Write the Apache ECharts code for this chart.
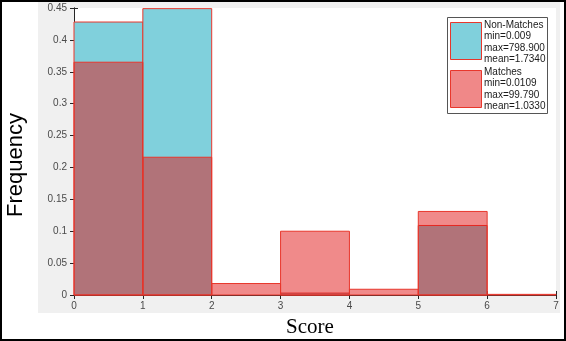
<!DOCTYPE html>
<html>
<head>
<meta charset="utf-8">
<script src="https://cdn.jsdelivr.net/npm/echarts@6/dist/echarts.min.js"></script>
<style>html,body{margin:0;padding:0;background:#fff}#c{width:566px;height:341px}</style>
</head>
<body>
<div id="c"></div>
<script>
// Data
const binEdges = [0, 1, 2, 3, 4, 5, 6, 7];
const nonMatches = [0.428, 0.449, 0, 0.003, 0, 0.109, 0];
const matches = [0.365, 0.216, 0.018, 0.100, 0.009, 0.131, 0.001];
const xTicks = [0, 1, 2, 3, 4, 5, 6, 7];
const yTicks = [0, 0.05, 0.1, 0.15, 0.2, 0.25, 0.3, 0.35, 0.4, 0.45];
const legendNon = ['Non-Matches', 'min=0.009', 'max=798.900', 'mean=1.7340'];
const legendMat = ['Matches', 'min=0.0109', 'max=99.790', 'mean=1.0330'];

function binData(vals) {
  const out = [];
  vals.forEach((v, i) => { if (v > 0) out.push([binEdges[i], binEdges[i + 1], v]); });
  return out;
}
function makeRender(fill) {
  return function (params, api) {
    const p0 = api.coord([api.value(0), 0]);
    const p1 = api.coord([api.value(1), api.value(2)]);
    return {
      type: 'rect',
      shape: { x: p0[0], y: p1[1], width: p1[0] - p0[0], height: p0[1] - p1[1] },
      style: { fill: fill, stroke: '#e8372c', lineWidth: 1 }
    };
  };
}

const chart = echarts.init(document.getElementById('c'), null, { renderer: 'canvas' });
const tickFont = { color: '#4a4a4a', fontSize: 10, fontFamily: 'Liberation Sans, Arial, sans-serif' };
const axisLine = { show: true, lineStyle: { color: '#262626', width: 1 } };
const axisTick = { show: true, inside: true, length: 4, lineStyle: { color: '#262626' } };

const legendText = [];
legendNon.forEach((t, i) => legendText.push({ type: 'text', x: 484, y: 25 + i * 11.5, style: { text: t, fill: '#1a1a1a', font: '10px "Liberation Sans", Arial, sans-serif', verticalAlign: 'middle' }, z: 101 }));
legendMat.forEach((t, i) => legendText.push({ type: 'text', x: 484, y: 72 + i * 11.5, style: { text: t, fill: '#1a1a1a', font: '10px "Liberation Sans", Arial, sans-serif', verticalAlign: 'middle' }, z: 101 }));

chart.setOption({
  animation: false,
  backgroundColor: '#ffffff',
  grid: { left: 74, top: 8, right: 10, bottom: 46, show: true, backgroundColor: '#ffffff', borderWidth: 0 },
  xAxis: [
    { type: 'value', min: 0, max: 7, interval: 1, position: 'bottom', axisLine, axisTick, splitLine: { show: false },
      axisLabel: Object.assign({ margin: 6, formatter: v => xTicks.includes(v) ? String(v) : '' }, tickFont) },
    { type: 'value', min: 0, max: 7, interval: 1, position: 'top', axisLine, axisTick, splitLine: { show: false }, axisLabel: { show: false } }
  ],
  yAxis: [
    { type: 'value', min: 0, max: 0.45, interval: 0.05, position: 'left', axisLine, axisTick, splitLine: { show: false },
      axisLabel: Object.assign({ margin: 7, formatter: v => { const t = yTicks.find(y => Math.abs(y - v) < 1e-9); return t === undefined ? '' : String(+t.toFixed(2)); } }, tickFont) },
    { type: 'value', min: 0, max: 0.45, interval: 0.05, position: 'right', axisLine, axisTick, splitLine: { show: false }, axisLabel: { show: false } }
  ],
  graphic: [
    { type: 'rect', shape: { x: 38, y: 2, width: 522, height: 311 }, style: { fill: '#f0f0f0' }, z: -10, silent: true },
    { type: 'rect', shape: { x: 1, y: 1, width: 564, height: 339 }, style: { fill: null, stroke: '#000', lineWidth: 2 }, z: 200, silent: true },
    { type: 'text', x: 16, y: 165, rotation: Math.PI / 2, style: { text: 'Frequency', fill: '#000', font: '22px "Liberation Sans", Arial, sans-serif', align: 'center', verticalAlign: 'middle' }, z: 50 },
    { type: 'text', x: 310, y: 327, style: { text: 'Score', fill: '#000', font: '21px "Liberation Serif", "Times New Roman", serif', align: 'center', verticalAlign: 'middle' }, z: 50 },
    { type: 'rect', shape: { x: 447.5, y: 17.5, width: 100, height: 96 }, style: { fill: '#fff', stroke: '#555', lineWidth: 1 }, z: 100 },
    { type: 'rect', shape: { x: 450.5, y: 22.5, width: 31, height: 37 }, style: { fill: '#80d0dc', stroke: '#e8372c', lineWidth: 1 }, z: 101 },
    { type: 'rect', shape: { x: 450.5, y: 70.5, width: 31, height: 37 }, style: { fill: '#f08888', stroke: '#e8372c', lineWidth: 1 }, z: 101 }
  ].concat(legendText),
  series: [
    { type: 'custom', name: 'Non-Matches', renderItem: makeRender('#80d0dc'), data: binData(nonMatches), encode: { x: [0, 1], y: 2 }, z: 2 },
    { type: 'custom', name: 'Matches', renderItem: makeRender('rgba(226,22,22,0.5)'), data: binData(matches), encode: { x: [0, 1], y: 2 }, z: 3 }
  ]
});
</script>
</body>
</html>
